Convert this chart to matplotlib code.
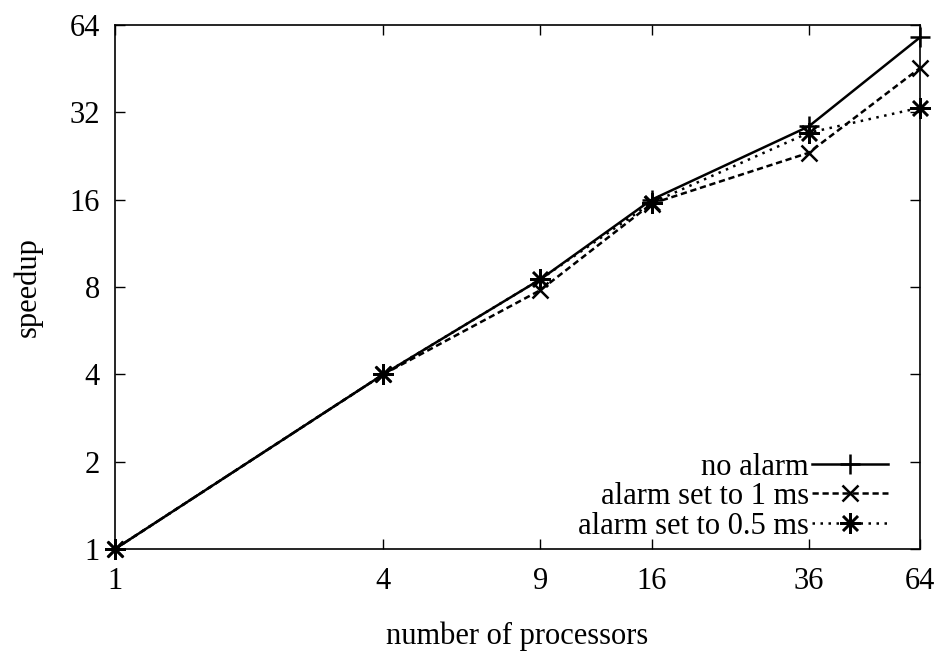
import matplotlib
matplotlib.use('Agg')
import matplotlib.pyplot as plt
import matplotlib.ticker as mticker

plt.rcParams['font.family'] = ['Liberation Serif', 'DejaVu Serif']

# data
procs = [1, 4, 9, 16, 36, 64]
no_alarm = [1, 4, 8.5, 16, 28.6, 58]
alarm_1ms = [1, 4, 7.8, 15.5, 23.2, 45.5]
alarm_05ms = [1, 4, 8.5, 15.6, 27.2, 33.2]
y_ticks = [1, 2, 4, 8, 16, 32, 64]

FS = 22

fig = plt.figure(figsize=(9.49, 6.51), dpi=100)
ax = fig.add_axes([115 / 949, 1 - 549 / 651, 805 / 949, 524 / 651])

ax.plot(procs, no_alarm, color='black', linestyle='-', linewidth=1.8,
        marker='+', markersize=15, markeredgewidth=1.8, label='no alarm', clip_on=False)
ax.plot(procs, alarm_1ms, color='black', linestyle=(0, (2.5, 1.5)), linewidth=1.8,
        marker='x', markersize=12, markeredgewidth=1.8, label='alarm set to 1 ms', clip_on=False)
ax.plot(procs, alarm_05ms, color='black', linestyle=(0, (1, 2.2)), linewidth=1.8,
        marker=(8, 2, 0), markersize=15, markeredgewidth=1.8, label='alarm set to 0.5 ms',
        clip_on=False)

ax.set_xscale('log', base=2)
ax.set_yscale('log', base=2)
ax.set_xlim(1, 64)
ax.set_ylim(1, 64)
ax.set_xticks(procs)
ax.set_yticks(y_ticks)
ax.xaxis.set_major_formatter(mticker.FuncFormatter(lambda v, p: f'{v:g}'))
ax.yaxis.set_major_formatter(mticker.FuncFormatter(lambda v, p: f'{v:g}'))
ax.xaxis.set_minor_locator(mticker.NullLocator())
ax.yaxis.set_minor_locator(mticker.NullLocator())
ax.tick_params(direction='in', length=7, width=1, top=True, right=True, labelsize=FS)
ax.tick_params(axis='x', pad=13)
ax.tick_params(axis='y', pad=11)
for spine in ax.spines.values():
    spine.set_linewidth(1.2)

ax.set_xlabel('number of processors', fontsize=FS, labelpad=18)
ax.set_ylabel('speedup', fontsize=FS, labelpad=19)

ax.legend(loc='lower right', bbox_to_anchor=(0.989, -0.028), frameon=False,
          markerfirst=False, fontsize=FS, handlelength=2.5, handletextpad=0.1,
          labelspacing=0.02, borderpad=0.25)

fig.savefig('out.png', dpi=100)
